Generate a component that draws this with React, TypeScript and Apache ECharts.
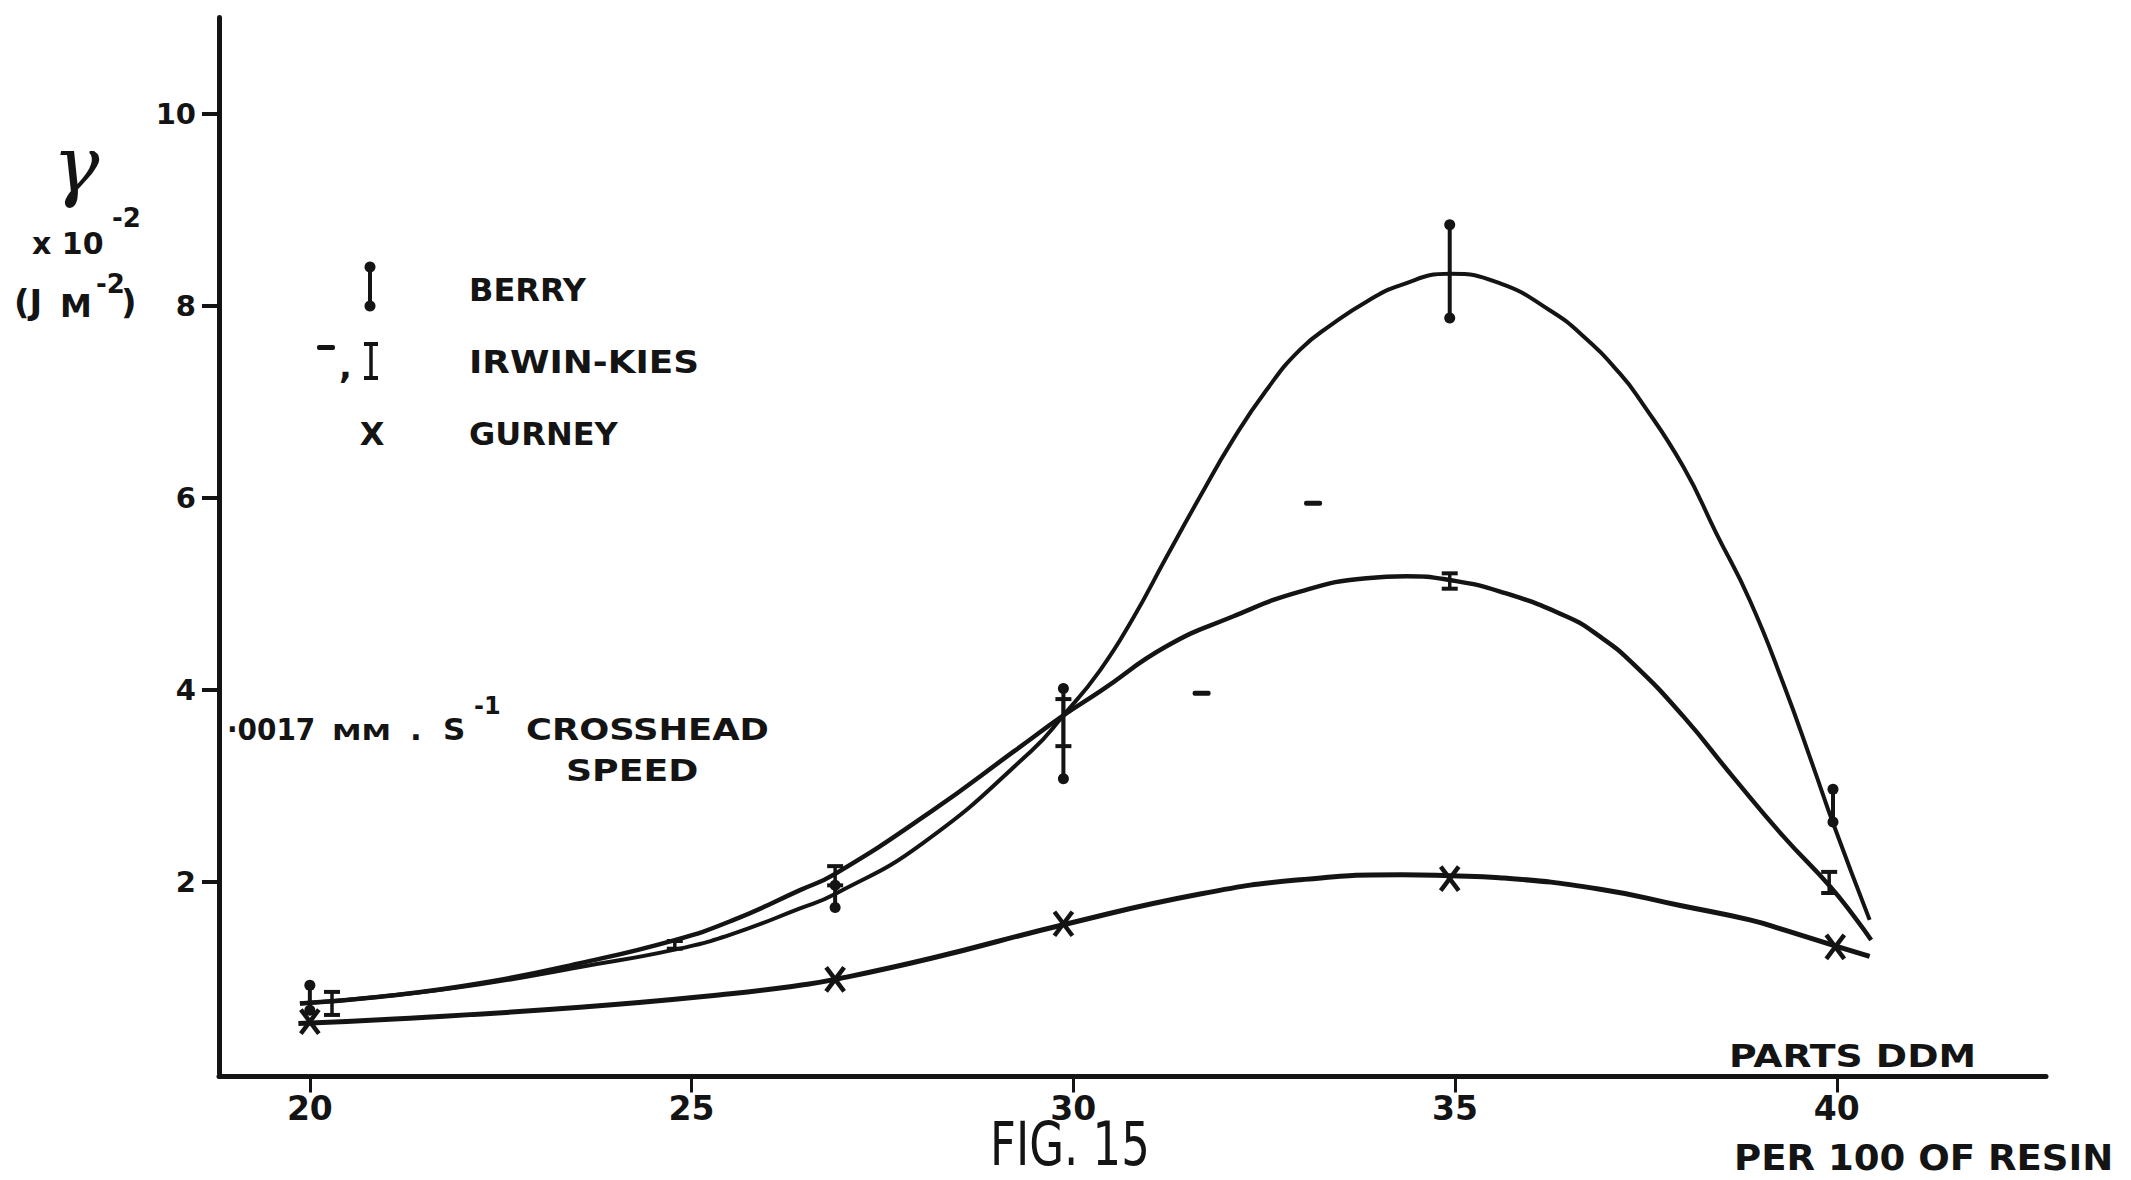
import React, { useEffect, useRef } from 'react';
import * as echarts from 'echarts';

// Axis ticks
const xTicks = [20, 25, 30, 35, 40];
const yTicks = [2, 4, 6, 8, 10];

// Berry: range bars with dot ends (x, low, high)
const berryX = [20.0, 26.88, 29.87, 34.93, 39.95];
const berryLow = [0.66, 1.73, 3.07, 7.87, 2.62];
const berryHigh = [0.92, 1.96, 4.01, 8.84, 2.96];

// Irwin-Kies: capped range bars (x, low, high)
const irwinX = [20.29, 24.78, 26.88, 29.87, 34.93, 39.9];
const irwinLow = [0.61, 1.3, 1.96, 3.41, 5.05, 1.88];
const irwinHigh = [0.85, 1.38, 2.16, 3.9, 5.21, 2.1];

// Irwin-Kies single values (dash marks)
const irwinSingleX = [31.68, 33.14];
const irwinSingleY = [3.96, 5.94];

// Gurney points (crosses)
const gurneyX = [20.0, 26.88, 29.87, 34.93, 39.98];
const gurneyY = [0.54, 0.98, 1.56, 2.03, 1.32];

// Hand-drawn fitted curves
const berryCurve = [
  [19.87, 0.73], [20.92, 0.8], [22.23, 0.93], [23.54, 1.11], [24.78, 1.29],
  [25.52, 1.45], [26.42, 1.72], [26.88, 1.87], [28.03, 2.4], [29.45, 3.36],
  [29.87, 3.73], [30.35, 4.2], [30.78, 4.74], [31.22, 5.38], [31.66, 6.01],
  [32.09, 6.6], [32.53, 7.12], [32.97, 7.54], [33.4, 7.81], [33.84, 8.04],
  [34.28, 8.21], [34.93, 8.33], [35.59, 8.23], [36.24, 7.95], [36.68, 7.68],
  [37.16, 7.29], [37.42, 7.02], [37.99, 6.32], [38.42, 5.63], [38.86, 4.93],
  [39.3, 4.06], [39.69, 3.2], [39.95, 2.61], [40.43, 1.6],
];
const irwinCurve = [
  [19.87, 0.73], [20.92, 0.8], [22.23, 0.94], [23.54, 1.15], [24.78, 1.39],
  [25.52, 1.59], [26.42, 1.91], [26.88, 2.08], [28.14, 2.73], [29.23, 3.36],
  [29.87, 3.73], [30.35, 3.98], [31.22, 4.45], [32.09, 4.76], [32.97, 5.02],
  [33.84, 5.16], [34.36, 5.18], [34.93, 5.14], [35.59, 5.02], [36.46, 4.76],
  [36.9, 4.55], [37.33, 4.27], [37.99, 3.72], [38.64, 3.09], [39.3, 2.47],
  [39.91, 1.95], [40.26, 1.6], [40.45, 1.39],
];
const gurneyCurve = [
  [19.85, 0.52], [20.92, 0.56], [23.54, 0.69], [25.51, 0.83], [26.42, 0.92],
  [26.88, 0.98], [28.14, 1.2], [29.87, 1.55], [31.66, 1.87], [33.0, 2.02],
  [34.3, 2.07], [34.93, 2.06], [35.58, 2.04], [36.9, 1.92], [37.95, 1.75],
  [38.86, 1.6], [39.33, 1.49], [40.02, 1.32], [40.43, 1.22],
];

const INK = '#141414';
const FONT = "'DejaVu Sans', 'Liberation Sans', sans-serif";

function berryGlyph(cx: number, yTop: number, yBot: number) {
  return [
    { type: 'line', shape: { x1: cx, y1: yTop, x2: cx, y2: yBot }, style: { stroke: INK, lineWidth: 4 } },
    { type: 'circle', shape: { cx, cy: yTop, r: 5.5 }, style: { fill: INK } },
    { type: 'circle', shape: { cx, cy: yBot, r: 5.5 }, style: { fill: INK } },
  ];
}

function irwinGlyph(cx: number, yTop: number, yBot: number, half = 8) {
  const s = { stroke: INK, lineWidth: 4 };
  return [
    { type: 'line', shape: { x1: cx, y1: yTop, x2: cx, y2: yBot }, style: { ...s, lineWidth: 3.5 } },
    { type: 'line', shape: { x1: cx - half, y1: yTop, x2: cx + half, y2: yTop }, style: s },
    { type: 'line', shape: { x1: cx - half, y1: yBot, x2: cx + half, y2: yBot }, style: s },
  ];
}

function crossGlyph(cx: number, cy: number) {
  const s = { stroke: INK, lineWidth: 4.5 };
  return [
    { type: 'line', shape: { x1: cx - 9, y1: cy - 12, x2: cx + 9, y2: cy + 12 }, style: s },
    { type: 'line', shape: { x1: cx + 9, y1: cy - 12, x2: cx - 9, y2: cy + 12 }, style: s },
  ];
}

function label(
  text: string,
  x: number,
  y: number,
  size: number,
  opts: { bold?: boolean; scaleX?: number; align?: string; family?: string; italic?: boolean } = {}
) {
  return {
    type: 'text',
    x,
    y,
    scaleX: opts.scaleX ?? 1,
    z: 10,
    style: {
      text,
      x: 0,
      y: 0,
      fill: INK,
      fontSize: size,
      fontFamily: opts.family ?? FONT,
      fontWeight: opts.bold === false ? 'normal' : 'bold',
      fontStyle: opts.italic ? 'italic' : 'normal',
      align: opts.align ?? 'left',
      textAlign: opts.align ?? 'left',
      verticalAlign: 'middle',
      textVerticalAlign: 'middle',
    },
  };
}

export default function App() {
  const ref = useRef<HTMLDivElement>(null);

  useEffect(() => {
    if (!ref.current) return;
    const chart = echarts.init(ref.current, undefined, { renderer: 'svg' });

    const axisFont = { color: INK, fontFamily: FONT, fontWeight: 'bold' as const };

    const option: any = {
      animation: false,
      backgroundColor: '#ffffff',
      grid: { left: 219, right: 85, top: 17.5, bottom: 106.5, containLabel: false, outerBoundsMode: 'none' },
      xAxis: {
        type: 'value',
        min: 18.81,
        max: 42.74,
        offset: 3,
        axisLine: { show: true, onZero: false, lineStyle: { color: INK, width: 5 } },
        axisTick: { show: true, customValues: xTicks, length: 16, lineStyle: { color: INK, width: 3 } },
        axisLabel: { customValues: xTicks, margin: 15, fontSize: 33, ...axisFont },
        splitLine: { show: false },
      },
      yAxis: {
        type: 'value',
        min: 0,
        max: 11,
        axisLine: { show: true, onZero: false, lineStyle: { color: INK, width: 5 } },
        axisTick: { show: true, customValues: yTicks, length: 17, lineStyle: { color: INK, width: 4 } },
        axisLabel: { customValues: yTicks, margin: 23, fontSize: 29, ...axisFont },
        splitLine: { show: false },
      },
      series: [
        {
          name: 'BERRY',
          type: 'line',
          data: berryCurve,
          smooth: 0.5,
          symbol: 'none',
          lineStyle: { color: INK, width: 4 },
          z: 2,
        },
        {
          name: 'IRWIN-KIES',
          type: 'line',
          data: irwinCurve,
          smooth: 0.5,
          symbol: 'none',
          lineStyle: { color: INK, width: 4.5 },
          z: 2,
        },
        {
          name: 'GURNEY',
          type: 'line',
          data: gurneyCurve,
          smooth: 0.5,
          symbol: 'none',
          lineStyle: { color: INK, width: 5 },
          z: 2,
        },
        {
          name: 'BERRY bars',
          type: 'custom',
          encode: { x: 0, y: [1, 2] },
          data: berryX.map((x, i) => [x, berryLow[i], berryHigh[i]]),
          renderItem: (_p: any, api: any) => {
            const x = api.value(0);
            const top = api.coord([x, api.value(2)]);
            const bot = api.coord([x, api.value(1)]);
            return { type: 'group', children: berryGlyph(top[0], top[1], bot[1]) };
          },
          z: 5,
        },
        {
          name: 'IRWIN-KIES bars',
          type: 'custom',
          encode: { x: 0, y: [1, 2] },
          data: irwinX.map((x, i) => [x, irwinLow[i], irwinHigh[i]]),
          renderItem: (_p: any, api: any) => {
            const x = api.value(0);
            const top = api.coord([x, api.value(2)]);
            const bot = api.coord([x, api.value(1)]);
            return { type: 'group', children: irwinGlyph(top[0], top[1], bot[1]) };
          },
          z: 5,
        },
        {
          name: 'IRWIN-KIES single',
          type: 'custom',
          encode: { x: 0, y: 1 },
          data: irwinSingleX.map((x, i) => [x, irwinSingleY[i]]),
          renderItem: (_p: any, api: any) => {
            const c = api.coord([api.value(0), api.value(1)]);
            return {
              type: 'rect',
              shape: { x: c[0] - 9, y: c[1] - 2.5, width: 18, height: 5, r: 2 },
              style: { fill: INK },
            };
          },
          z: 5,
        },
        {
          name: 'GURNEY points',
          type: 'custom',
          encode: { x: 0, y: 1 },
          data: gurneyX.map((x, i) => [x, gurneyY[i]]),
          renderItem: (_p: any, api: any) => {
            const c = api.coord([api.value(0), api.value(1)]);
            return { type: 'group', children: crossGlyph(c[0], c[1]) };
          },
          z: 5,
        },
      ],
      graphic: [
        // y-axis title
        label('γ', 76, 165, 78, { bold: false, align: 'center', family: "'DejaVu Serif', serif", italic: true }),
        label('x 10', 32, 243, 30),
        label('-2', 112, 218, 26),
        label('(J', 14, 302, 34),
        label('M', 60, 306, 32),
        label('-2', 96, 284, 26),
        label(')', 121, 302, 34),

        // legend
        { type: 'group', children: berryGlyph(370, 267, 306) },
        label('BERRY', 469, 290, 32),
        { type: 'rect', shape: { x: 317, y: 345, width: 18, height: 5, r: 2 }, style: { fill: INK } },
        label(',', 339, 366, 34),
        { type: 'group', children: irwinGlyph(371, 344, 378, 7) },
        label('IRWIN-KIES', 469, 362, 32, { scaleX: 1.12 }),
        label('X', 372, 434, 32, { align: 'center' }),
        label('GURNEY', 469, 434, 32),

        // test conditions
        label('·0017', 227, 729, 31, { scaleX: 0.9 }),
        label('MM', 332, 732, 22, { scaleX: 1.35 }),
        label('.', 410, 729, 31),
        label('S', 443, 729, 31),
        label('-1', 474, 706, 24),
        label('CROSSHEAD', 526, 729, 31, { scaleX: 1.14 }),
        label('SPEED', 566, 770, 31, { scaleX: 1.17 }),

        // x-axis title and figure number
        label('PARTS DDM', 1729, 1056, 32, { scaleX: 1.18 }),
        label('PER 100 OF RESIN', 1734, 1158, 36, { scaleX: 1.03 }),
        label('FIG. 15', 990, 1145, 60, { bold: false, scaleX: 0.75 }),
      ],
    };

    chart.setOption(option);
    return () => chart.dispose();
  }, []);

  return (
    <div
      ref={ref}
      style={{ position: 'absolute', left: 0, top: 0, width: 2131, height: 1180, background: '#ffffff' }}
    />
  );
}
